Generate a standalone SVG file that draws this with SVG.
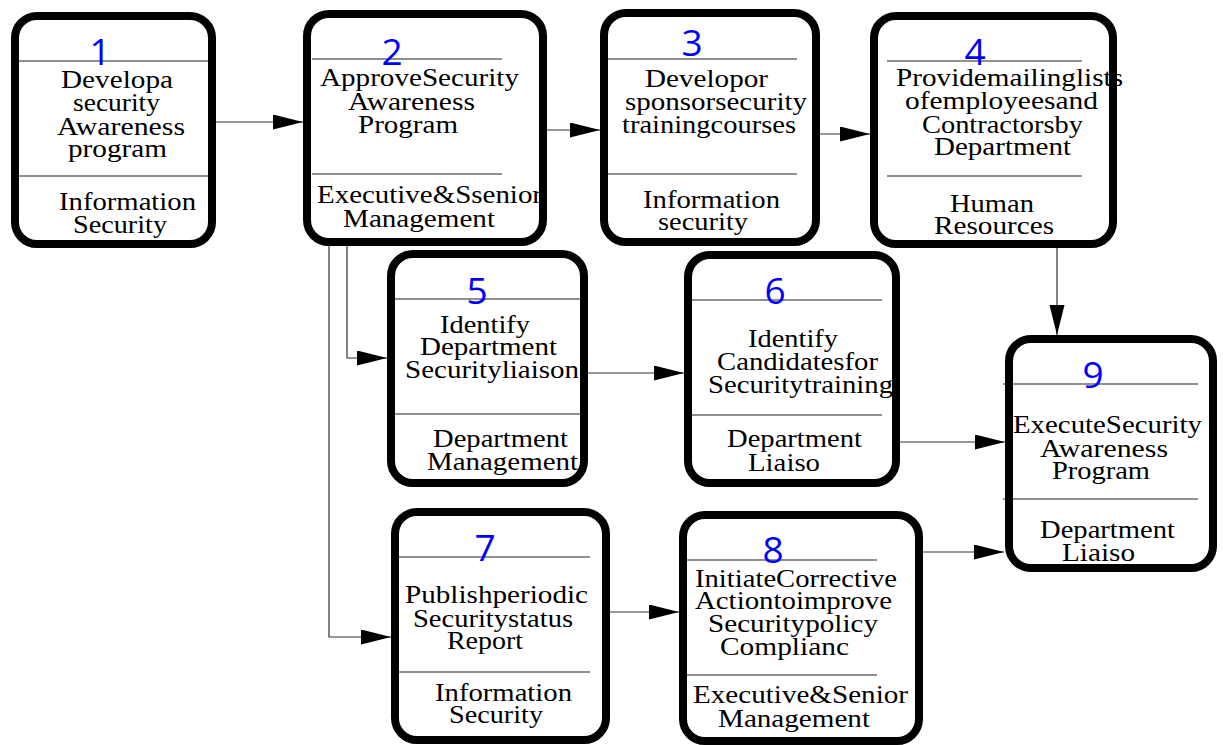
<svg xmlns="http://www.w3.org/2000/svg" width="1223" height="745" viewBox="0 0 1223 745">
  <defs>
    <marker id="arrow" markerUnits="userSpaceOnUse" markerWidth="32" markerHeight="16" refX="30" refY="7.5" orient="auto">
      <path d="M0,0 L30,7.5 L0,15 Z" fill="#000"/>
    </marker>
    <style>
      .bg { fill: #fff; stroke: none; }
      .frame { fill: none; stroke: #000; stroke-width: 8; }
      .div { stroke: #222; stroke-width: 1.2; }
      .num { font-family: "Open Sans", "Noto Sans", sans-serif; font-size: 37px; fill: #0000ff; text-anchor: middle; }
      .t { font-family: "Liberation Serif", "Times New Roman", serif; font-size: 25px; fill: #000; }
      .conn { fill: none; stroke: #333; stroke-width: 1.2; marker-end: url(#arrow); }
    </style>
  </defs>
  <rect width="1223" height="745" fill="#fff"/>

  <!-- connectors -->
  <g id="connectors">
    <path class="conn" d="M216,122 H303"/>
    <path class="conn" d="M547,130 H600"/>
    <path class="conn" d="M820,134 H870"/>
    <path class="conn" d="M1057,248 V335"/>
    <path class="conn" d="M347,246 V358 H387"/>
    <path class="conn" d="M329,246 V637 H391"/>
    <path class="conn" d="M588,373 H684"/>
    <path class="conn" d="M900,442 H1005"/>
    <path class="conn" d="M610,612 H679"/>
    <path class="conn" d="M923,552 H1004"/>
  </g>

  <!-- process 1 -->
  <g id="node1">
    <rect class="bg" x="15" y="16" width="197" height="228" rx="22"/>
    <line class="div" x1="19" y1="61" x2="208" y2="61"/>
    <line class="div" x1="19" y1="176" x2="208" y2="176"/>
    <text class="num" x="100" y="65">1</text>
    <text class="t" x="61" y="88" textLength="112" lengthAdjust="spacingAndGlyphs">Developa</text>
    <text class="t" x="73" y="111" textLength="87" lengthAdjust="spacingAndGlyphs">security</text>
    <text class="t" x="57" y="135" textLength="128" lengthAdjust="spacingAndGlyphs">Awareness</text>
    <text class="t" x="68" y="157" textLength="99" lengthAdjust="spacingAndGlyphs">program</text>
    <text class="t" x="59" y="210" textLength="137" lengthAdjust="spacingAndGlyphs">Information</text>
    <text class="t" x="73" y="233" textLength="94" lengthAdjust="spacingAndGlyphs">Security</text>
    <rect class="frame" x="15" y="16" width="197" height="228" rx="22"/>
  </g>

  <!-- process 2 -->
  <g id="node2">
    <rect class="bg" x="307" y="14" width="236" height="228" rx="22"/>
    <line class="div" x1="312" y1="59" x2="502" y2="59"/>
    <line class="div" x1="312" y1="174" x2="502" y2="174"/>
    <text class="num" x="392" y="65">2</text>
    <text class="t" x="320" y="86" textLength="199" lengthAdjust="spacingAndGlyphs">ApproveSecurity</text>
    <text class="t" x="348" y="110" textLength="127" lengthAdjust="spacingAndGlyphs">Awareness</text>
    <text class="t" x="358" y="133" textLength="100" lengthAdjust="spacingAndGlyphs">Program</text>
    <text class="t" x="317" y="203" textLength="225" lengthAdjust="spacingAndGlyphs">Executive&amp;Ssenior</text>
    <text class="t" x="343" y="227" textLength="152" lengthAdjust="spacingAndGlyphs">Management</text>
    <rect class="frame" x="307" y="14" width="236" height="228" rx="22"/>
  </g>

  <!-- process 3 -->
  <g id="node3">
    <rect class="bg" x="604" y="13" width="212" height="229" rx="22"/>
    <line class="div" x1="607" y1="59" x2="797" y2="59"/>
    <line class="div" x1="607" y1="174" x2="797" y2="174"/>
    <text class="num" x="692" y="56">3</text>
    <text class="t" x="645" y="87" textLength="123" lengthAdjust="spacingAndGlyphs">Developor</text>
    <text class="t" x="625" y="110" textLength="182" lengthAdjust="spacingAndGlyphs">sponsorsecurity</text>
    <text class="t" x="622" y="133" textLength="174" lengthAdjust="spacingAndGlyphs">trainingcourses</text>
    <text class="t" x="643" y="208" textLength="137" lengthAdjust="spacingAndGlyphs">Information</text>
    <text class="t" x="658" y="230" textLength="90" lengthAdjust="spacingAndGlyphs">security</text>
    <rect class="frame" x="604" y="13" width="212" height="229" rx="22"/>
  </g>

  <!-- process 4 -->
  <g id="node4">
    <rect class="bg" x="874" y="16" width="239" height="228" rx="22"/>
    <line class="div" x1="887" y1="61" x2="1082" y2="61"/>
    <line class="div" x1="887" y1="176" x2="1082" y2="176"/>
    <text class="num" x="975" y="65">4</text>
    <text class="t" x="896" y="86" textLength="227" lengthAdjust="spacingAndGlyphs">Providemailinglists</text>
    <text class="t" x="905" y="109" textLength="193" lengthAdjust="spacingAndGlyphs">ofemployeesand</text>
    <text class="t" x="922" y="133" textLength="161" lengthAdjust="spacingAndGlyphs">Contractorsby</text>
    <text class="t" x="934" y="155" textLength="137" lengthAdjust="spacingAndGlyphs">Department</text>
    <text class="t" x="950" y="212" textLength="84" lengthAdjust="spacingAndGlyphs">Human</text>
    <text class="t" x="934" y="234" textLength="120" lengthAdjust="spacingAndGlyphs">Resources</text>
    <rect class="frame" x="874" y="16" width="239" height="228" rx="22"/>
  </g>

  <!-- process 5 -->
  <g id="node5">
    <rect class="bg" x="391" y="254" width="193" height="229" rx="22"/>
    <line class="div" x1="395" y1="299" x2="580" y2="299"/>
    <line class="div" x1="395" y1="414" x2="580" y2="414"/>
    <text class="num" x="477" y="304">5</text>
    <text class="t" x="440" y="333" textLength="90" lengthAdjust="spacingAndGlyphs">Identify</text>
    <text class="t" x="420" y="355" textLength="137" lengthAdjust="spacingAndGlyphs">Department</text>
    <text class="t" x="405" y="378" textLength="174" lengthAdjust="spacingAndGlyphs">Securityliaison</text>
    <text class="t" x="433" y="447" textLength="135" lengthAdjust="spacingAndGlyphs">Department</text>
    <text class="t" x="427" y="470" textLength="151" lengthAdjust="spacingAndGlyphs">Management</text>
    <rect class="frame" x="391" y="254" width="193" height="229" rx="22"/>
  </g>

  <!-- process 6 -->
  <g id="node6">
    <rect class="bg" x="688" y="255" width="208" height="228" rx="22"/>
    <line class="div" x1="692" y1="300" x2="882" y2="300"/>
    <line class="div" x1="692" y1="415" x2="882" y2="415"/>
    <text class="num" x="775" y="304">6</text>
    <text class="t" x="748" y="347" textLength="90" lengthAdjust="spacingAndGlyphs">Identify</text>
    <text class="t" x="717" y="370" textLength="161" lengthAdjust="spacingAndGlyphs">Candidatesfor</text>
    <text class="t" x="708" y="393" textLength="185" lengthAdjust="spacingAndGlyphs">Securitytraining</text>
    <text class="t" x="727" y="447" textLength="135" lengthAdjust="spacingAndGlyphs">Department</text>
    <text class="t" x="748" y="471" textLength="72" lengthAdjust="spacingAndGlyphs">Liaiso</text>
    <rect class="frame" x="688" y="255" width="208" height="228" rx="22"/>
  </g>

  <!-- process 7 -->
  <g id="node7">
    <rect class="bg" x="395" y="512" width="211" height="228" rx="22"/>
    <line class="div" x1="399" y1="557" x2="590" y2="557"/>
    <line class="div" x1="399" y1="672" x2="590" y2="672"/>
    <text class="num" x="485" y="561">7</text>
    <text class="t" x="405" y="603" textLength="183" lengthAdjust="spacingAndGlyphs">Publishperiodic</text>
    <text class="t" x="413" y="627" textLength="160" lengthAdjust="spacingAndGlyphs">Securitystatus</text>
    <text class="t" x="447" y="649" textLength="76" lengthAdjust="spacingAndGlyphs">Report</text>
    <text class="t" x="435" y="701" textLength="137" lengthAdjust="spacingAndGlyphs">Information</text>
    <text class="t" x="449" y="723" textLength="94" lengthAdjust="spacingAndGlyphs">Security</text>
    <rect class="frame" x="395" y="512" width="211" height="228" rx="22"/>
  </g>

  <!-- process 8 -->
  <g id="node8">
    <rect class="bg" x="683" y="515" width="236" height="226" rx="22"/>
    <line class="div" x1="687" y1="560" x2="877" y2="560"/>
    <line class="div" x1="687" y1="675" x2="877" y2="675"/>
    <text class="num" x="773" y="563">8</text>
    <text class="t" x="695" y="587" textLength="202" lengthAdjust="spacingAndGlyphs">InitiateCorrective</text>
    <text class="t" x="695" y="609" textLength="197" lengthAdjust="spacingAndGlyphs">Actiontoimprove</text>
    <text class="t" x="708" y="632" textLength="170" lengthAdjust="spacingAndGlyphs">Securitypolicy</text>
    <text class="t" x="720" y="655" textLength="129" lengthAdjust="spacingAndGlyphs">Complianc</text>
    <text class="t" x="693" y="703" textLength="215" lengthAdjust="spacingAndGlyphs">Executive&amp;Senior</text>
    <text class="t" x="718" y="727" textLength="152" lengthAdjust="spacingAndGlyphs">Management</text>
    <rect class="frame" x="683" y="515" width="236" height="226" rx="22"/>
  </g>

  <!-- process 9 -->
  <g id="node9">
    <rect class="bg" x="1009" y="339" width="204" height="229" rx="22"/>
    <line class="div" x1="1003" y1="384" x2="1198" y2="384"/>
    <line class="div" x1="1003" y1="499" x2="1198" y2="499"/>
    <text class="num" x="1093" y="388">9</text>
    <text class="t" x="1013" y="433" textLength="189" lengthAdjust="spacingAndGlyphs">ExecuteSecurity</text>
    <text class="t" x="1040" y="457" textLength="128" lengthAdjust="spacingAndGlyphs">Awareness</text>
    <text class="t" x="1052" y="479" textLength="98" lengthAdjust="spacingAndGlyphs">Program</text>
    <text class="t" x="1040" y="538" textLength="135" lengthAdjust="spacingAndGlyphs">Department</text>
    <text class="t" x="1062" y="561" textLength="73" lengthAdjust="spacingAndGlyphs">Liaiso</text>
    <rect class="frame" x="1009" y="339" width="204" height="229" rx="22"/>
  </g>
</svg>
